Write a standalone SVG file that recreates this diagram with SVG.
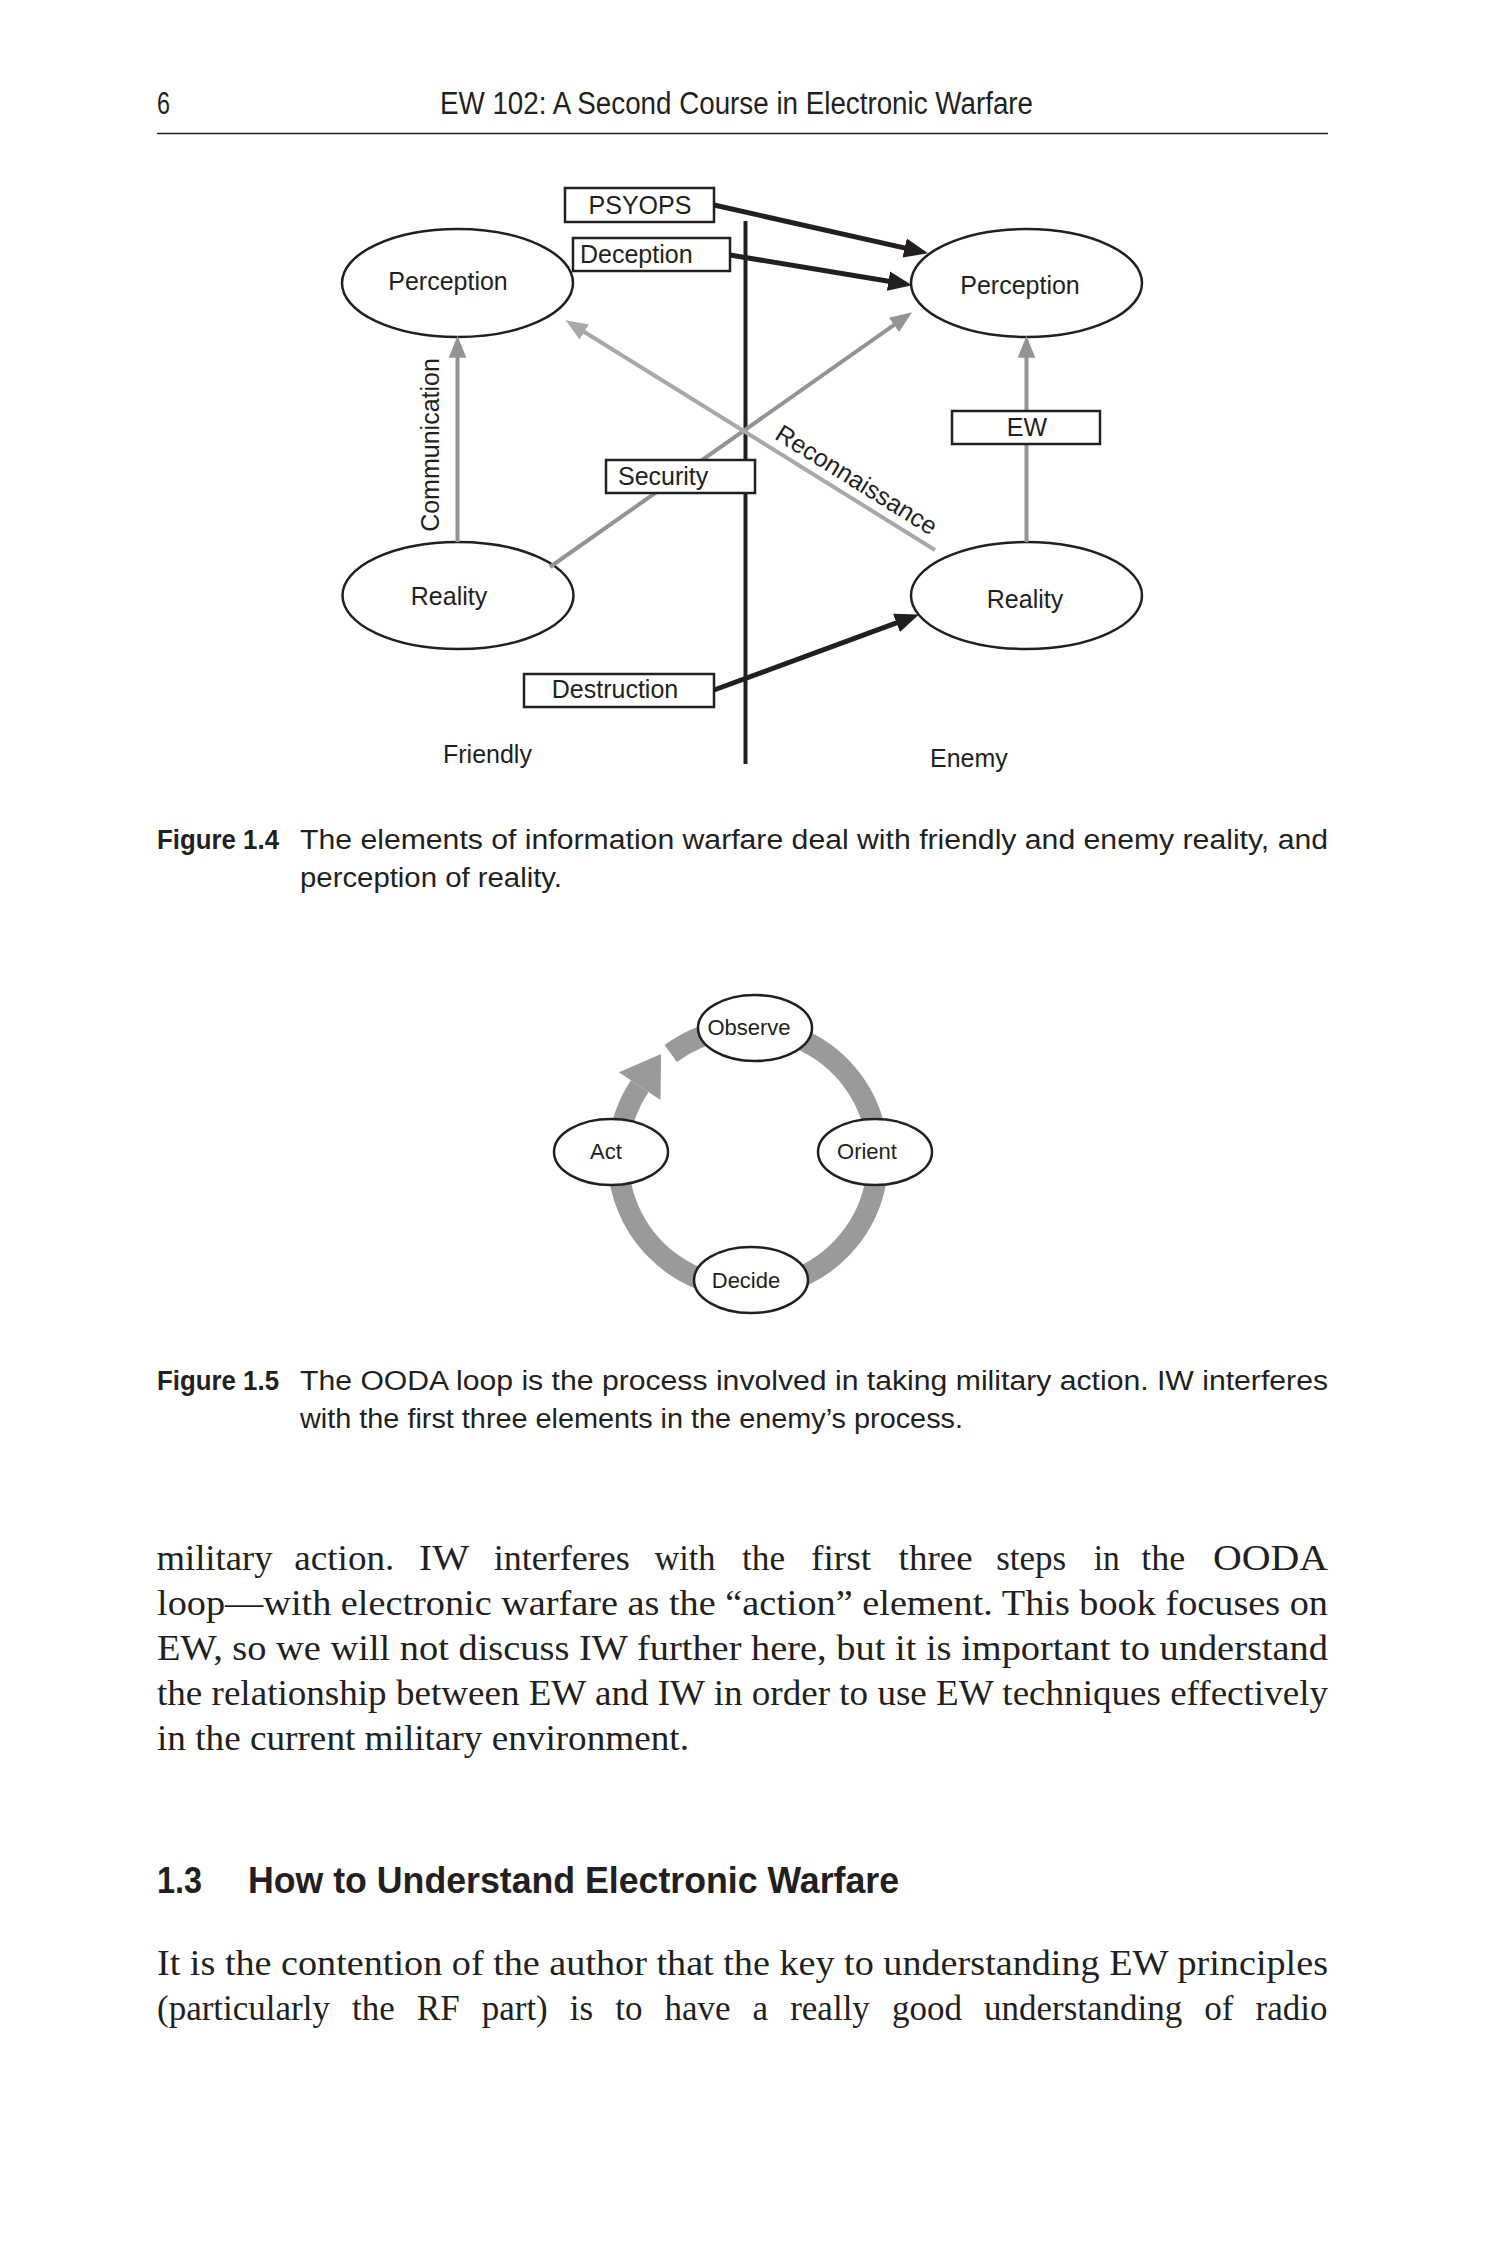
<svg xmlns="http://www.w3.org/2000/svg" width="1500" height="2250" viewBox="0 0 1500 2250">
<defs>
<style>
.bg{fill:#ffffff}
.node{fill:#ffffff;stroke:#231f20;stroke-width:2.5}
.lbl{font-family:"Liberation Sans",Arial,sans-serif;font-size:25px;fill:#231f20}
.olbl{font-family:"Liberation Sans",Arial,sans-serif;font-size:22px;fill:#231f20}
.blk{stroke:#231f20;stroke-width:5;fill:none}
.gry{stroke:#939393;stroke-width:4;fill:none}
.lgry{stroke:#a8a8a8;stroke-width:4;fill:none}
.div{stroke:#231f20;stroke-width:4;fill:none}
.cond{font-family:"Liberation Sans Narrow","Liberation Sans",Arial,sans-serif;fill:#231f20}
.hdr{font-size:31px}
.cap{font-size:27px}
.capb{font-size:27px;font-weight:bold}
.head{font-size:37px;font-weight:bold}
.body{font-family:"Liberation Serif","Times New Roman",serif;font-size:35px;fill:#231f20}
</style>
<marker id="ahB" markerUnits="userSpaceOnUse" markerWidth="24" markerHeight="20" viewBox="0 0 22 18" refX="10" refY="9" orient="auto">
<path d="M0,0 L22,9 L0,18 z" fill="#231f20"/>
</marker>
<marker id="ahG" markerUnits="userSpaceOnUse" markerWidth="22" markerHeight="18" viewBox="0 0 20 16" refX="8" refY="8" orient="auto">
<path d="M0,0 L20,8 L0,16 z" fill="#939393"/>
</marker>
<marker id="ahL" markerUnits="userSpaceOnUse" markerWidth="22" markerHeight="18" viewBox="0 0 20 16" refX="8" refY="8" orient="auto">
<path d="M0,0 L20,8 L0,16 z" fill="#a8a8a8"/>
</marker>
</defs>
<rect class="bg" x="0" y="0" width="1500" height="2250"/>

<!-- Page header -->
<g id="header">
<text class="cond hdr" x="157" y="114" textLength="13" lengthAdjust="spacingAndGlyphs">6</text>
<text class="cond hdr" x="440" y="114" textLength="593" lengthAdjust="spacingAndGlyphs">EW 102: A Second Course in Electronic Warfare</text>
<line x1="157" y1="133.5" x2="1328" y2="133.5" stroke="#231f20" stroke-width="1.5"/>
</g>

<!-- Figure 1.4 -->
<g id="fig14-nodes">
<g id="friendly-perception">
<ellipse class="node" cx="457.5" cy="283" rx="115.5" ry="54"/>
<text class="lbl" x="448" y="290" text-anchor="middle">Perception</text>
</g>
<g id="enemy-perception">
<ellipse class="node" cx="1026.5" cy="283" rx="115.5" ry="54"/>
<text class="lbl" x="1020" y="294" text-anchor="middle">Perception</text>
</g>
<g id="friendly-reality">
<ellipse class="node" cx="458" cy="595.5" rx="115.5" ry="53.5"/>
<text class="lbl" x="449" y="605" text-anchor="middle">Reality</text>
</g>
<g id="enemy-reality">
<ellipse class="node" cx="1026.5" cy="595.5" rx="115.5" ry="53.5"/>
<text class="lbl" x="1025" y="608" text-anchor="middle">Reality</text>
</g>
</g>

<g id="fig14-connectors">
<line class="div" x1="745.5" y1="221" x2="745.5" y2="764"/>
<line class="blk" x1="714" y1="205" x2="915.3" y2="250.4" marker-end="url(#ahB)"/>
<line class="blk" x1="730" y1="255" x2="899.2" y2="283" marker-end="url(#ahB)"/>
<line class="blk" x1="714" y1="690" x2="906.7" y2="619.1" marker-end="url(#ahB)"/>
<line class="gry" x1="457.5" y1="542" x2="457.5" y2="349" marker-end="url(#ahG)"/>
<line class="gry" x1="1026.5" y1="542" x2="1026.5" y2="349" marker-end="url(#ahG)"/>
<line class="gry" x1="550" y1="567" x2="901.2" y2="319.9" marker-end="url(#ahG)"/>
<line class="lgry" x1="935" y1="550" x2="576.8" y2="327.3" marker-end="url(#ahL)"/>
<text class="lbl" transform="translate(439,445) rotate(-90)" text-anchor="middle">Communication</text>
<text class="lbl" transform="translate(852,487) rotate(31.9)" text-anchor="middle">Reconnaissance</text>
</g>

<g id="fig14-boxes">
<g id="psyops">
<rect class="node" x="565" y="188" width="149" height="34"/>
<text class="lbl" x="640" y="214" text-anchor="middle">PSYOPS</text>
</g>
<g id="deception">
<rect class="node" x="573" y="238" width="157" height="33"/>
<text class="lbl" x="580" y="263">Deception</text>
</g>
<g id="security">
<rect class="node" x="606" y="460" width="149" height="33"/>
<text class="lbl" x="618" y="485">Security</text>
</g>
<g id="ew">
<rect class="node" x="952" y="411" width="148" height="33"/>
<text class="lbl" x="1027" y="436" text-anchor="middle">EW</text>
</g>
<g id="destruction">
<rect class="node" x="524" y="674" width="190" height="33"/>
<text class="lbl" x="615" y="698" text-anchor="middle">Destruction</text>
</g>
</g>
<text class="lbl" x="443" y="763">Friendly</text>
<text class="lbl" x="930" y="767">Enemy</text>

<g id="caption14">
<text class="cond capb" x="157" y="849" textLength="122" lengthAdjust="spacingAndGlyphs">Figure 1.4</text>
<text class="cond cap" x="300" y="849" textLength="1028" lengthAdjust="spacingAndGlyphs">The elements of information warfare deal with friendly and enemy reality, and</text>
<text class="cond cap" x="300" y="887" textLength="262" lengthAdjust="spacingAndGlyphs">perception of reality.</text>
</g>

<!-- Figure 1.5 OODA -->
<g id="ooda-connectors">
<path d="M670.7,1053.5 A130,130 0 1 1 639.7,1086.1" fill="none" stroke="#9a9a9a" stroke-width="21"/>
<polygon points="618.9,1072.3 661.1,1053.9 660.5,1099.9" fill="#9a9a9a"/>
</g>
<g id="ooda-nodes">
<g id="observe">
<ellipse class="node" cx="755" cy="1028" rx="57" ry="33"/>
<text class="olbl" x="749" y="1035" text-anchor="middle">Observe</text>
</g>
<g id="orient">
<ellipse class="node" cx="875" cy="1152" rx="57" ry="33"/>
<text class="olbl" x="867" y="1159" text-anchor="middle">Orient</text>
</g>
<g id="decide">
<ellipse class="node" cx="751" cy="1280" rx="57" ry="33"/>
<text class="olbl" x="746" y="1288" text-anchor="middle">Decide</text>
</g>
<g id="act">
<ellipse class="node" cx="611" cy="1152" rx="57" ry="33"/>
<text class="olbl" x="606" y="1159" text-anchor="middle">Act</text>
</g>
</g>

<g id="caption15">
<text class="cond capb" x="157" y="1390" textLength="122" lengthAdjust="spacingAndGlyphs">Figure 1.5</text>
<text class="cond cap" x="300" y="1390" textLength="1028" lengthAdjust="spacingAndGlyphs">The OODA loop is the process involved in taking military action. IW interferes</text>
<text class="cond cap" x="300" y="1428" textLength="663" lengthAdjust="spacingAndGlyphs">with the first three elements in the enemy’s process.</text>
</g>

<!-- Body text -->
<g id="body1">
<text class="body" x="156.5" y="1570" textLength="116" lengthAdjust="spacingAndGlyphs">military</text>
<text class="body" x="294.3" y="1570" textLength="100" lengthAdjust="spacingAndGlyphs">action.</text>
<text class="body" x="419.1" y="1570" textLength="50" lengthAdjust="spacingAndGlyphs">IW</text>
<text class="body" x="493.8" y="1570" textLength="136" lengthAdjust="spacingAndGlyphs">interferes</text>
<text class="body" x="654.5" y="1570" textLength="61" lengthAdjust="spacingAndGlyphs">with</text>
<text class="body" x="742.1" y="1570" textLength="43" lengthAdjust="spacingAndGlyphs">the</text>
<text class="body" x="811" y="1570" textLength="60" lengthAdjust="spacingAndGlyphs">first</text>
<text class="body" x="898.6" y="1570" textLength="74" lengthAdjust="spacingAndGlyphs">three</text>
<text class="body" x="996.2" y="1570" textLength="70" lengthAdjust="spacingAndGlyphs">steps</text>
<text class="body" x="1093.8" y="1570" textLength="26" lengthAdjust="spacingAndGlyphs">in</text>
<text class="body" x="1141.2" y="1570" textLength="44" lengthAdjust="spacingAndGlyphs">the</text>
<text class="body" x="1212.9" y="1570" textLength="115" lengthAdjust="spacingAndGlyphs">OODA</text>
<text class="body" x="157" y="1615" textLength="1171" lengthAdjust="spacingAndGlyphs">loop—with electronic warfare as the “action” element. This book focuses on</text>
<text class="body" x="157" y="1660" textLength="1171" lengthAdjust="spacingAndGlyphs">EW, so we will not discuss IW further here, but it is important to understand</text>
<text class="body" x="157" y="1705" textLength="1171" lengthAdjust="spacingAndGlyphs">the relationship between EW and IW in order to use EW techniques effectively</text>
<text class="body" x="157" y="1750" textLength="532" lengthAdjust="spacingAndGlyphs">in the current military environment.</text>
</g>

<g id="heading">
<text class="cond head" x="157" y="1893" textLength="45" lengthAdjust="spacingAndGlyphs">1.3</text>
<text class="cond head" x="248" y="1893" textLength="651" lengthAdjust="spacingAndGlyphs">How to Understand Electronic Warfare</text>
</g>

<g id="body2">
<text class="body" x="157" y="1975" textLength="1171" lengthAdjust="spacingAndGlyphs">It is the contention of the author that the key to understanding EW principles</text>
<text class="body" x="157" y="2020" word-spacing="13.3">(particularly the RF part) is to have a really good understanding of radio</text>
</g>
</svg>
